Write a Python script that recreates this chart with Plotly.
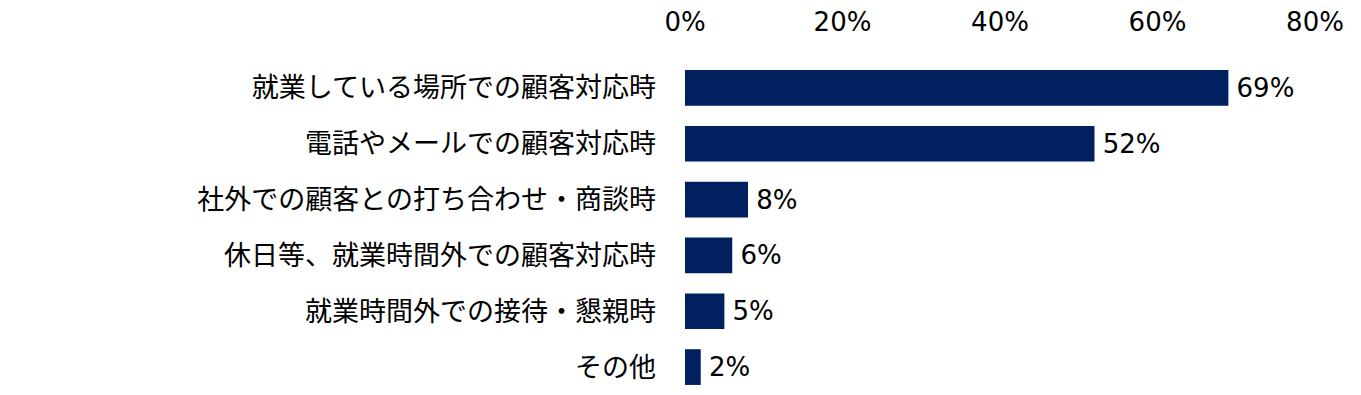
import plotly.graph_objects as go

categories = [
    "就業している場所での顧客対応時",
    "電話やメールでの顧客対応時",
    "社外での顧客との打ち合わせ・商談時",
    "休日等、就業時間外での顧客対応時",
    "就業時間外での接待・懇親時",
    "その他",
]
values = [69, 52, 8, 6, 5, 2]
tick_vals = [0, 20, 40, 60, 80]
tick_text = ["0%", "20%", "40%", "60%", "80%"]

CJK = "Noto Sans CJK JP"
NUM = "DejaVu Sans"

fig = go.Figure(
    go.Bar(
        x=values,
        y=categories,
        orientation="h",
        marker=dict(color="#002060", line=dict(width=0)),
        text=[f"\u2009{v}%" for v in values],
        textposition="outside",
        constraintext="none",
        textfont=dict(size=26, color="#000000", family=NUM),
        cliponaxis=False,
        hoverinfo="skip",
    )
)

fig.update_layout(
    width=1361,
    height=395,
    margin=dict(l=677, r=54, t=52, b=8, autoexpand=False),
    paper_bgcolor="white",
    plot_bgcolor="white",
    bargap=0.36,
    showlegend=False,
    font=dict(family=CJK, color="#000000"),
)
fig.update_xaxes(
    side="top",
    range=[0, 80],
    tickvals=tick_vals,
    ticktext=tick_text,
    tickfont=dict(size=26, family=NUM, color="#000000"),
    showgrid=False,
    zeroline=False,
    showline=False,
    ticks="",
    automargin=False,
    ticklabelstandoff=23,
)
fig.update_yaxes(
    autorange="reversed",
    tickfont=dict(size=27, family=CJK, color="#000000"),
    showgrid=False,
    showline=False,
    ticks="",
    automargin=False,
    ticklabelstandoff=28,
)

fig.write_html("out.html")
